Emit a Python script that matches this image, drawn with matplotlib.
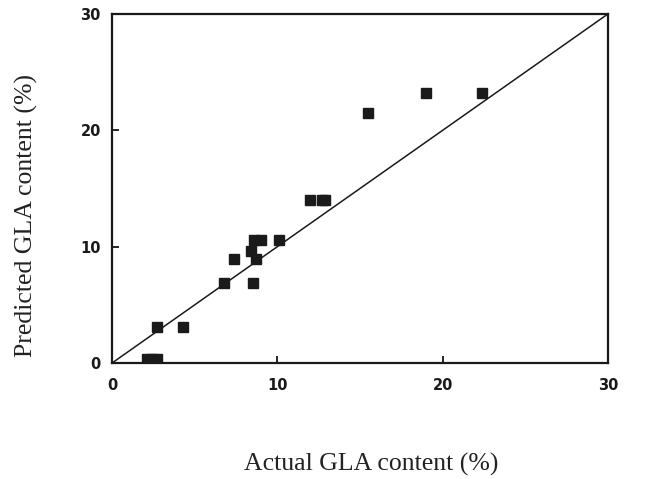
import matplotlib

matplotlib.use("Agg")
import matplotlib.pyplot as plt

# Actual vs predicted GLA content (%)
actual = [19.0, 22.4, 15.5, 12.0, 12.7, 12.9, 10.1, 8.6, 9.0, 8.4, 8.7, 7.35, 6.8, 8.5, 2.7, 4.3, 2.1, 2.4, 2.7]
predicted = [23.2, 23.2, 21.5, 14.0, 14.0, 14.0, 10.6, 10.6, 10.6, 9.6, 8.9, 8.9, 6.9, 6.9, 3.1, 3.1, 0.35, 0.35, 0.35]

ticks = [0, 10, 20, 30]
line_x = [0, 30]

fig = plt.figure(figsize=(6.51, 4.79), dpi=100)
ax = fig.add_axes([0.172, 0.242, 0.762, 0.729])

ax.plot(line_x, line_x, color="#1a1a1a", lw=1.1, zorder=2)
ax.plot(actual, predicted, ls="none", marker="s", ms=7, color="#1a1a1a", zorder=3)

ax.set_xlim(0, 30)
ax.set_ylim(0, 30)
ax.set_xticks(ticks)
ax.set_yticks(ticks)
ax.tick_params(direction="in", length=5, width=1.2, labelsize=10.5)
ax.tick_params(axis="x", pad=11)
ax.tick_params(axis="y", pad=8)
for lab in ax.get_xticklabels() + ax.get_yticklabels():
    lab.set_fontfamily("DejaVu Sans")
    lab.set_fontweight("bold")
    lab.set_color("#1a1a1a")
for sp in ax.spines.values():
    sp.set_linewidth(1.6)
    sp.set_color("#1a1a1a")

fig.text(0.570, 0.006, "Actual GLA content (%)", ha="center", va="bottom",
         family="Liberation Serif", fontsize=18.5, color="#222222")
fig.text(0.040, 0.551, "Predicted GLA content (%)", ha="center", va="center", rotation=90,
         family="Liberation Serif", fontsize=18.5, color="#222222")

fig.savefig("out.png", dpi=100)
